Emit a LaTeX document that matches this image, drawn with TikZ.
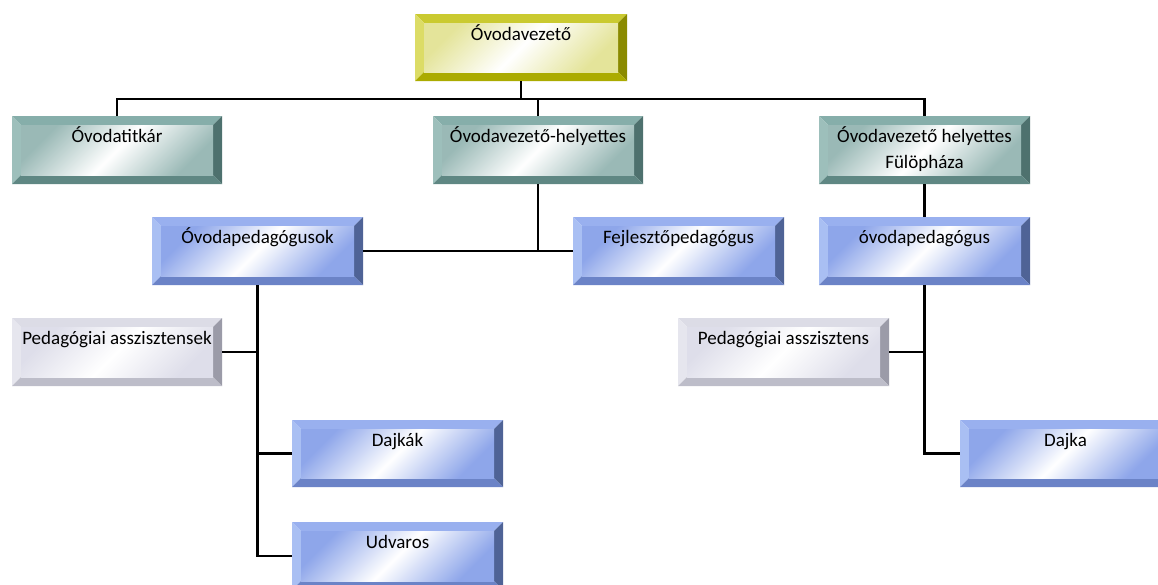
\documentclass[tikz,border=0pt]{standalone}
\usepackage{fontspec}
\setmainfont{Carlito}
% colour schemes: T top, L left, R right, B bottom, S shading tint
\definecolor{yT}{HTML}{CACA30}\definecolor{yL}{HTML}{DCDC66}\definecolor{yR}{HTML}{8A8A00}\definecolor{yB}{HTML}{ABAB00}\definecolor{yS}{HTML}{E4E49A}
\definecolor{tT}{HTML}{86AEAA}\definecolor{tL}{HTML}{9DBFBB}\definecolor{tR}{HTML}{4E716E}\definecolor{tB}{HTML}{5F8783}\definecolor{tS}{HTML}{9AB9B6}
\definecolor{bT}{HTML}{99B0EF}\definecolor{bL}{HTML}{A9BFF3}\definecolor{bR}{HTML}{4F6396}\definecolor{bB}{HTML}{6B83C7}\definecolor{bS}{HTML}{8EA6EA}
\definecolor{gT}{HTML}{DCDCE6}\definecolor{gL}{HTML}{E6E6EE}\definecolor{gR}{HTML}{9B9BA8}\definecolor{gB}{HTML}{BDBDC9}\definecolor{gS}{HTML}{DEDEEA}
\tikzset{
  boxarea/.style={inner sep=0pt, outer sep=0pt, draw=none},
  boxtext/.style={inner sep=0pt, anchor=base, align=center, font=\fontsize{19}{26}\selectfont},
  link/.style={line width=2.2pt, black}
}
% name, x1, y1, x2, y2, scheme, text, extra baseline offset (for 2-line text)
\newcommand\bevbox[8]{%
  \node[boxarea, minimum width={#4-#2}, minimum height={#5-#3}] (#1) at ({(#2+#4)/2},{(#3+#5)/2}) {};
  \fill[#6T] (#2,#3) -- (#4,#3) -- ({#4-9},{#3+9}) -- ({#2+9},{#3+9}) -- cycle;
  \fill[#6L] (#2,#3) -- ({#2+9},{#3+9}) -- ({#2+9},{#5-9}) -- (#2,#5) -- cycle;
  \fill[#6R] (#4,#3) -- (#4,#5) -- ({#4-9},{#5-9}) -- ({#4-9},{#3+9}) -- cycle;
  \fill[#6B] (#2,#5) -- ({#2+9},{#5-9}) -- ({#4-9},{#5-9}) -- (#4,#5) -- cycle;
  \shade[left color=#6S, right color=#6S, middle color=white, shading angle=45] ({#2+9},{#3+9}) rectangle ({#4-9},{#5-9});
  \node[boxtext] (#1-t) at ({(#2+#4)/2},{#3+26.5+#8}) {#7};
}
\begin{document}
\begin{tikzpicture}[x=1pt, y=-1pt]
\useasboundingbox (0,0) rectangle (1158,584);
\clip (0,0) rectangle (1158,584);
\bevbox{vez}{415}{14}{627}{81}{y}{Óvodavezető}{0}
\bevbox{tit}{12}{116}{222}{184}{t}{Óvodatitkár}{0}
\bevbox{hely}{433}{116}{643}{184}{t}{Óvodavezető-helyettes}{0}
\bevbox{fh}{819}{116}{1030}{184}{t}{Óvodavezető helyettes\\Fülöpháza}{26}
\bevbox{ped}{152}{217}{363}{285}{b}{Óvodapedagógusok}{0}
\bevbox{fej}{573}{217}{784}{285}{b}{Fejlesztőpedagógus}{0}
\bevbox{op}{819}{217}{1030}{285}{b}{óvodapedagógus}{0}
\bevbox{asz}{12}{318}{222}{386}{g}{Pedagógiai asszisztensek}{0}
\bevbox{asz2}{678}{318}{889}{386}{g}{Pedagógiai asszisztens}{0}
\bevbox{dajk}{292}{420}{503}{487}{b}{Dajkák}{0}
\bevbox{daj}{960}{420}{1171}{487}{b}{Dajka}{0}
\bevbox{udv}{292}{522}{503}{590}{b}{Udvaros}{0}
\coordinate (bus) at (0,99);
% connectors
\draw[link] (vez.south) -- (vez.south |- bus);
\draw[link] (tit.north) -- (tit.north |- bus) -- (fh.north |- bus) -- (fh.north);
\draw[link] (hely.north) -- (hely.north |- bus);
\draw[link] (hely.south) -- (hely.south |- ped.east);
\draw[link] (ped.east) -- (fej.west);
\draw[link] (fh.south) -- (op.north);
\draw[link] (ped.south) -- (ped.south |- udv.west) -- (udv.west);
\draw[link] (asz.east) -- (asz.east -| ped.south);
\draw[link] (ped.south |- dajk.west) -- (dajk.west);
\draw[link] (op.south) -- (op.south |- daj.west) -- (daj.west);
\draw[link] (asz2.east) -- (asz2.east -| op.south);
\end{tikzpicture}
\end{document}
